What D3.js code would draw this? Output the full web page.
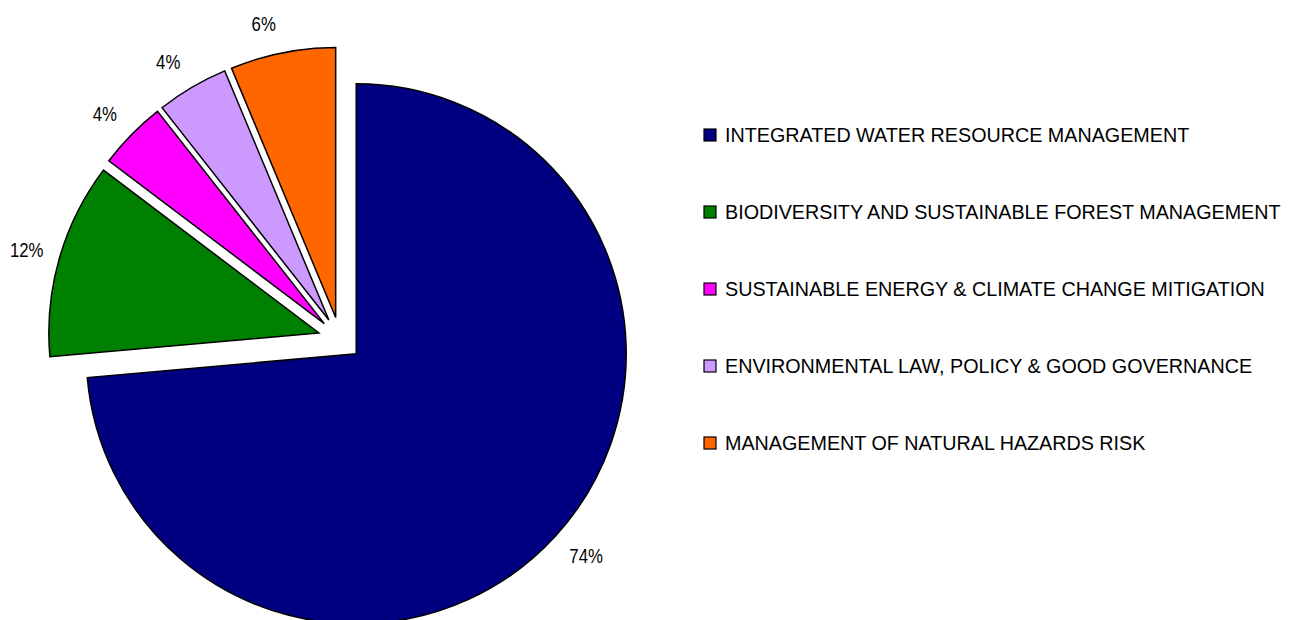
<!DOCTYPE html>
<html>
<head>
<meta charset="utf-8">
<script src="https://cdn.jsdelivr.net/npm/d3@7"></script>
<style>
  body { margin: 0; background: #fff; }
  svg text { font-family: "Liberation Sans", Arial, sans-serif; fill: #000; }
</style>
</head>
<body>
<svg id="chart" width="1296" height="620"></svg>
<script>
const categories = [
    'INTEGRATED WATER RESOURCE MANAGEMENT',
    'BIODIVERSITY AND SUSTAINABLE FOREST MANAGEMENT',
    'SUSTAINABLE ENERGY & CLIMATE CHANGE MITIGATION',
    'ENVIRONMENTAL LAW, POLICY & GOOD GOVERNANCE',
    'MANAGEMENT OF NATURAL HAZARDS RISK'
];
const values = [73.6, 11.7, 4.1, 4.3, 6.3];
const colors = ['#000080', '#008000', '#ff00ff', '#cc99ff', '#ff6600'];

// the original font is a narrow sans, so squeeze Liberation Sans
const labelNarrow = 0.84;
const legendNarrow = 0.94;

window.onload = function() {
    drawPie();
    drawLegend();
};

function drawPie() {
    let svg = d3.select('#chart');
    let cx = 340, cy = 339;
    let radius = 270;
    let explode = 22;
    let labelR = 290;

    let pie = d3.pie().sort(null);
    let arc = d3.arc().innerRadius(0).outerRadius(radius);
    let total = d3.sum(values);

    let g = svg.append('g').attr('transform', `translate(${cx},${cy})`);

    let slices = g.selectAll('g.slice')
        .data(pie(values))
        .enter().append('g')
        .attr('class', 'slice')
        .attr('transform', d => {
            let mid = (d.startAngle + d.endAngle) / 2;
            return `translate(${explode * Math.sin(mid)},${-explode * Math.cos(mid)})`;
        });

    slices.append('path')
        .attr('d', arc)
        .attr('fill', (d, i) => colors[i])
        .attr('stroke', '#000')
        .attr('stroke-width', 1.5);

    // label box sits beside the anchor point, roughly like excel does it
    slices.append('text')
        .style('font-size', '20px')
        .attr('text-anchor', 'middle')
        .attr('dy', '0.35em')
        .text(d => Math.round(d.value / total * 100) + '%')
        .attr('transform', function(d) {
            let mid = (d.startAngle + d.endAngle) / 2;
            let s = Math.sin(mid), c = Math.cos(mid);
            let w = this.getComputedTextLength() * labelNarrow + 6;
            let h = 18;
            let x = labelR * s + Math.sign(s) * (w / 2) * (1 - 0.35 * s * s);
            let y = -labelR * c - c * h / 2;
            return `translate(${x},${y}) scale(${labelNarrow},1)`;
        });
}

function drawLegend() {
    let svg = d3.select('#chart');
    let y = d3.scalePoint()
        .domain(categories)
        .range([135, 443]);

    let items = svg.selectAll('g.legend')
        .data(categories)
        .enter().append('g')
        .attr('class', 'legend')
        .attr('transform', d => `translate(704,${y(d)})`);

    items.append('rect')
        .attr('x', 0)
        .attr('y', -6)
        .attr('width', 12)
        .attr('height', 12)
        .attr('fill', (d, i) => colors[i])
        .attr('stroke', '#000')
        .attr('stroke-width', 1.2);

    items.append('text')
        .style('font-size', '21px')
        .attr('transform', `translate(21,0) scale(${legendNarrow},1)`)
        .attr('dy', '0.35em')
        .text(d => d);
}
</script>
</body>
</html>
